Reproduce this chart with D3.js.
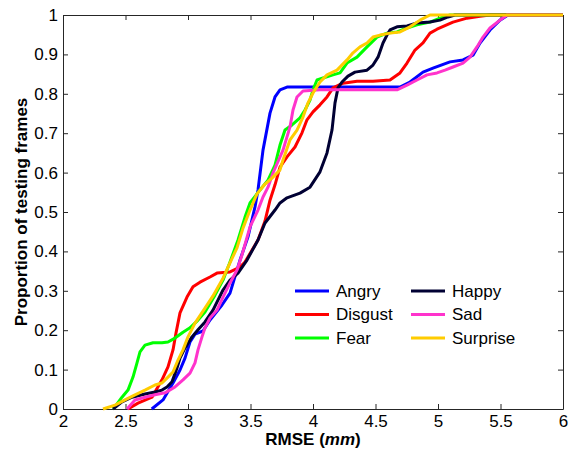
<!DOCTYPE html>
<html>
<head>
<meta charset="utf-8">
<script src="https://cdn.jsdelivr.net/npm/d3@7"></script>
<style>
  html, body { margin: 0; padding: 0; background: #fff; }
  svg { display: block; }
  text { font-family: Arial, "Liberation Sans", Helvetica, sans-serif; }
</style>
</head>
<body>
<svg id="chart" width="569" height="449"></svg>
<script>
// Empirical CDFs of RMSE (mm) per expression: [rmse, proportion of frames]
const angry = [
  [2.71,0.000],[2.80,0.023],[2.88,0.066],[2.936,0.099],[2.976,0.129],[3.016,0.170],
  [3.056,0.190],[3.12,0.198],[3.176,0.226],[3.272,0.264],[3.336,0.294],[3.416,0.378],
  [3.48,0.437],[3.536,0.513],[3.56,0.556],[3.60,0.657],[3.656,0.751],[3.696,0.792],
  [3.736,0.810],[3.792,0.817],[4.216,0.817],[4.696,0.817],[4.776,0.830],[4.88,0.855],
  [4.96,0.865],[5.096,0.881],[5.20,0.886],[5.28,0.898],[5.336,0.929],[5.416,0.962],
  [5.496,0.987],[5.56,1.000],[6.0,1.000]
];
const disgust = [
  [2.52,0.000],[2.60,0.015],[2.712,0.030],[2.792,0.074],[2.84,0.107],[2.88,0.150],
  [2.904,0.193],[2.936,0.244],[2.992,0.284],[3.04,0.310],[3.096,0.322],[3.176,0.335],
  [3.232,0.345],[3.336,0.348],[3.416,0.360],[3.456,0.373],[3.56,0.429],[3.616,0.477],
  [3.656,0.530],[3.696,0.569],[3.736,0.614],[3.792,0.640],[3.856,0.665],[3.912,0.701],
  [3.952,0.734],[4.00,0.754],[4.056,0.772],[4.112,0.792],[4.16,0.815],[4.24,0.827],
  [4.352,0.832],[4.48,0.832],[4.616,0.835],[4.696,0.853],[4.752,0.878],[4.816,0.911],
  [4.88,0.929],[4.936,0.954],[4.992,0.964],[5.12,0.982],[5.232,0.992],[5.336,0.997],
  [5.416,1.000],[6.0,1.000]
];
const fear = [
  [2.40,0.000],[2.432,0.013],[2.472,0.030],[2.52,0.048],[2.56,0.081],[2.592,0.117],
  [2.616,0.145],[2.656,0.162],[2.72,0.168],[2.792,0.168],[2.84,0.170],[2.896,0.180],
  [2.96,0.195],[3.016,0.206],[3.072,0.223],[3.136,0.246],[3.216,0.289],[3.28,0.327],
  [3.336,0.373],[3.40,0.429],[3.456,0.487],[3.496,0.523],[3.576,0.556],[3.64,0.581],
  [3.696,0.619],[3.736,0.670],[3.776,0.708],[3.832,0.721],[3.896,0.739],[3.936,0.759],
  [3.976,0.784],[4.00,0.810],[4.032,0.835],[4.08,0.840],[4.16,0.848],[4.216,0.853],
  [4.272,0.878],[4.352,0.893],[4.432,0.919],[4.512,0.944],[4.592,0.954],[4.672,0.957],
  [4.752,0.967],[4.832,0.975],[4.936,0.982],[5.016,0.992],[5.096,1.000],[6.0,1.000]
];
const happy = [
  [2.40,0.000],[2.472,0.018],[2.552,0.030],[2.656,0.038],[2.736,0.043],[2.792,0.048],
  [2.832,0.056],[2.872,0.069],[2.912,0.104],[2.936,0.129],[2.976,0.155],[3.032,0.183],
  [3.08,0.201],[3.136,0.221],[3.20,0.251],[3.28,0.302],[3.336,0.327],[3.40,0.345],
  [3.472,0.378],[3.56,0.429],[3.616,0.472],[3.696,0.505],[3.736,0.523],[3.792,0.536],
  [3.896,0.548],[3.976,0.563],[4.056,0.602],[4.112,0.650],[4.152,0.708],[4.176,0.777],
  [4.20,0.815],[4.232,0.830],[4.28,0.845],[4.336,0.855],[4.432,0.860],[4.48,0.873],
  [4.52,0.893],[4.56,0.929],[4.592,0.949],[4.616,0.962],[4.672,0.970],[4.752,0.972],
  [4.832,0.980],[4.936,0.982],[5.016,0.987],[5.08,0.995],[5.136,1.000],[6.0,1.000]
];
const sad = [
  [2.512,0.000],[2.576,0.023],[2.656,0.030],[2.736,0.036],[2.816,0.041],[2.896,0.056],
  [2.96,0.074],[3.016,0.091],[3.056,0.117],[3.08,0.150],[3.112,0.183],[3.136,0.206],
  [3.176,0.231],[3.232,0.251],[3.28,0.284],[3.336,0.320],[3.392,0.353],[3.432,0.391],
  [3.496,0.462],[3.56,0.505],[3.60,0.538],[3.64,0.563],[3.68,0.599],[3.76,0.657],
  [3.816,0.716],[3.84,0.759],[3.872,0.792],[3.92,0.807],[4.056,0.810],[4.376,0.810],
  [4.672,0.810],[4.752,0.822],[4.832,0.835],[4.912,0.848],[4.992,0.853],[5.056,0.860],
  [5.12,0.868],[5.20,0.878],[5.256,0.893],[5.312,0.919],[5.36,0.944],[5.416,0.967],
  [5.496,0.987],[5.552,1.000],[6.0,1.000]
];
const surprise = [
  [2.32,0.000],[2.416,0.010],[2.496,0.023],[2.576,0.036],[2.656,0.048],[2.736,0.061],
  [2.792,0.066],[2.84,0.081],[2.88,0.094],[2.92,0.124],[2.96,0.150],[3.00,0.183],
  [3.056,0.218],[3.136,0.256],[3.20,0.287],[3.28,0.332],[3.336,0.371],[3.392,0.409],
  [3.44,0.459],[3.496,0.505],[3.552,0.546],[3.616,0.571],[3.672,0.586],[3.736,0.607],
  [3.76,0.632],[3.816,0.683],[3.872,0.708],[3.92,0.741],[3.96,0.777],[4.00,0.802],
  [4.056,0.830],[4.112,0.848],[4.192,0.860],[4.272,0.886],[4.32,0.904],[4.376,0.919],
  [4.432,0.929],[4.48,0.944],[4.536,0.949],[4.616,0.954],[4.696,0.957],[4.776,0.970],
  [4.856,0.987],[4.936,1.000],[6.0,1.000]
];

const seriesNames = ["Angry", "Disgust", "Fear", "Happy", "Sad", "Surprise"];
const seriesData = [angry, disgust, fear, happy, sad, surprise];
const seriesColors = ["#0000ff", "#ff0000", "#00ff00", "#000033", "#ff33cc", "#ffcc00"];

const xTicks = [2, 2.5, 3, 3.5, 4, 4.5, 5, 5.5, 6];
const yTicks = [0, 0.1, 0.2, 0.3, 0.4, 0.5, 0.6, 0.7, 0.8, 0.9, 1];

// Plot frame
const margin = { left: 63, top: 15, right: 6, bottom: 40 };
const W = 569, H = 449;
const x0 = margin.left, x1 = W - margin.right;
const y0 = H - margin.bottom, y1 = margin.top;

const svg = d3.select("#chart");
svg.append("rect").attr("width", W).attr("height", H).attr("fill", "#fff");

const x = d3.scaleLinear().domain([2, 6]).range([x0, x1]);
const y = d3.scaleLinear().domain([0, 1]).range([y0, y1]);

const axisColor = "#262626";
const tickLen = 5;
const fmt = d => d3.format("")(d);

// Bottom and left axes with inward ticks
const gx = svg.append("g").attr("transform", `translate(0,${y0})`)
  .call(d3.axisBottom(x).tickValues(xTicks).tickFormat(fmt).tickSizeInner(-tickLen).tickSizeOuter(0).tickPadding(6));
const gy = svg.append("g").attr("transform", `translate(${x0},0)`)
  .call(d3.axisLeft(y).tickValues(yTicks).tickFormat(fmt).tickSizeInner(-tickLen).tickSizeOuter(0).tickPadding(5));
// Top and right mirror ticks, no labels
const gxt = svg.append("g").attr("transform", `translate(0,${y1})`)
  .call(d3.axisTop(x).tickValues(xTicks).tickFormat("").tickSizeInner(-tickLen).tickSizeOuter(0));
const gyr = svg.append("g").attr("transform", `translate(${x1},0)`)
  .call(d3.axisRight(y).tickValues(yTicks).tickFormat("").tickSizeInner(-tickLen).tickSizeOuter(0));

[gx, gy, gxt, gyr].forEach(g => {
  g.selectAll("path.domain").attr("stroke", axisColor).attr("stroke-width", 1);
  g.selectAll(".tick line").attr("stroke", axisColor).attr("stroke-width", 1);
  g.selectAll(".tick text").attr("fill", "#000").style("font-size", "17px")
    .style("font-family", "Arial, 'Liberation Sans', sans-serif");
});
gx.selectAll(".tick text").attr("dy", "0.71em");

// Axis titles
svg.append("text")
  .attr("x", (x0 + x1) / 2).attr("y", 445)
  .attr("text-anchor", "middle")
  .style("font-size", "17px").style("font-weight", "bold")
  .call(t => {
    t.append("tspan").text("RMSE (");
    t.append("tspan").style("font-style", "italic").text("mm");
    t.append("tspan").text(")");
  });

svg.append("text")
  .attr("transform", `translate(27,${(y0 + y1) / 2}) rotate(-90)`)
  .attr("text-anchor", "middle")
  .style("font-size", "17px").style("font-weight", "bold")
  .text("Proportion of testing frames");

// CDF curves
const line = d3.line().x(d => x(d[0])).y(d => y(d[1]));
seriesData.forEach((data, i) => {
  svg.append("path")
    .datum(data)
    .attr("fill", "none")
    .attr("stroke", seriesColors[i])
    .attr("stroke-width", 3)
    .attr("stroke-linejoin", "round")
    .attr("stroke-linecap", "butt")
    .attr("d", line);
});

// Legend, two columns of three
const legend = svg.append("g");
seriesNames.forEach((name, i) => {
  const col = Math.floor(i / 3), row = i % 3;
  const lx = 295 + col * 116, ly = 291 + row * 23.5;
  legend.append("line")
    .attr("x1", lx).attr("x2", lx + 34).attr("y1", ly).attr("y2", ly)
    .attr("stroke", seriesColors[i]).attr("stroke-width", 3);
  legend.append("text")
    .attr("x", lx + 41).attr("y", ly).attr("dy", "0.35em")
    .style("font-size", "17px").attr("fill", "#000")
    .text(name);
});
</script>
</body>
</html>
